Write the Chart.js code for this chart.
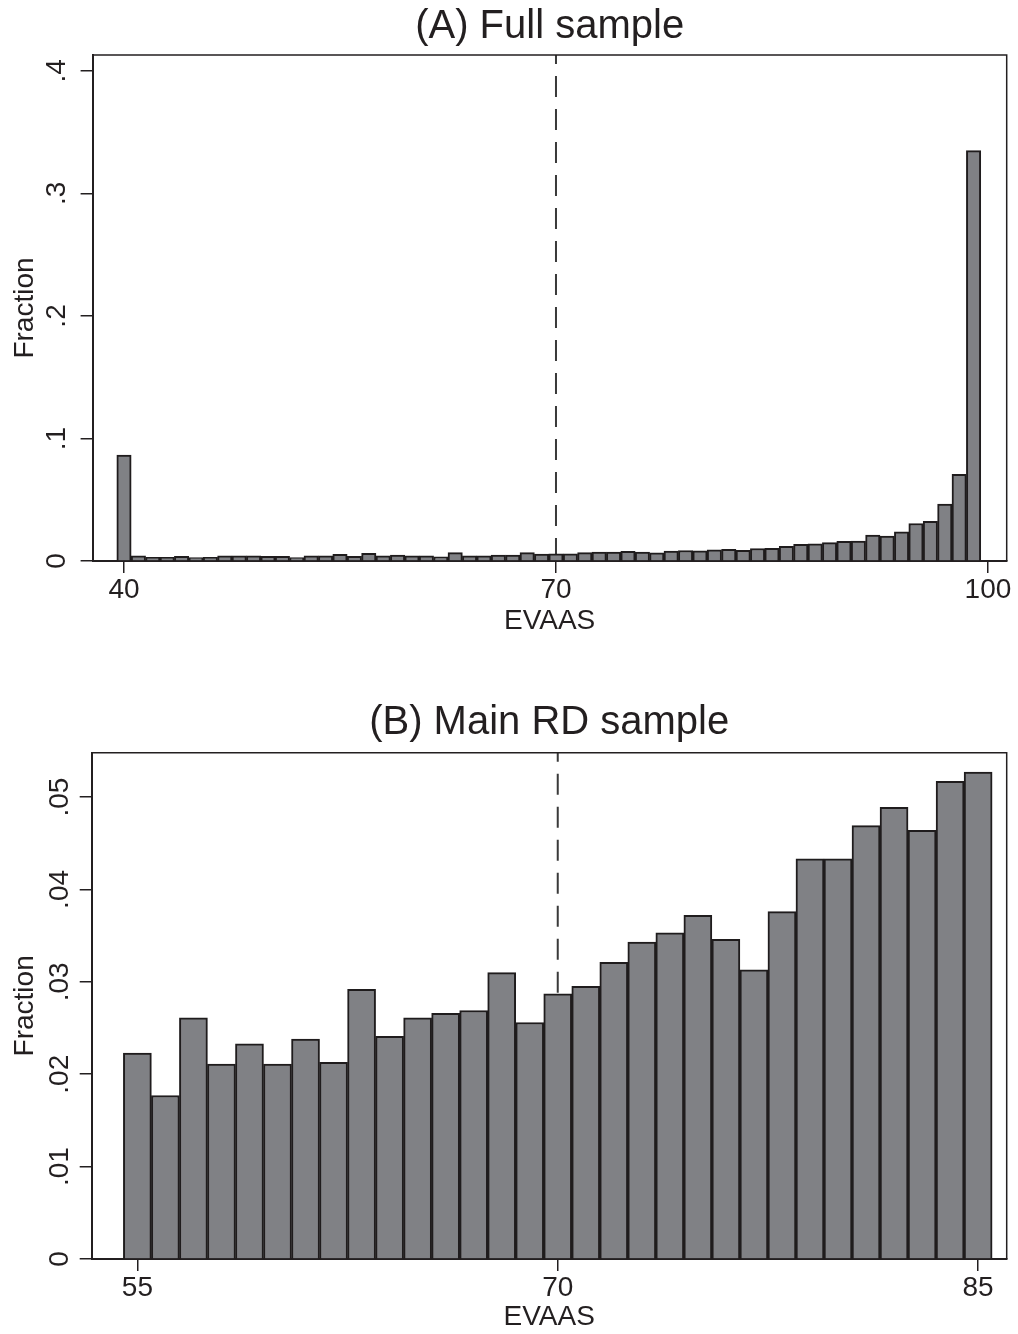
<!DOCTYPE html>
<html>
<head>
<meta charset="utf-8">
<script src="https://cdn.jsdelivr.net/npm/chart.js@4.4.1/dist/chart.umd.min.js"></script>
<style>
  html, body { margin: 0; padding: 0; background: #fff; }
  canvas { display: block; }
</style>
</head>
<body>
<canvas id="chartA" width="1018" height="667"></canvas>
<canvas id="chartB" width="1018" height="667"></canvas>
<script>
// Panel A: full sample, one bin per EVAAS point
const fullBins = [40, 41, 42, 43, 44, 45, 46, 47, 48, 49,
                  50, 51, 52, 53, 54, 55, 56, 57, 58, 59,
                  60, 61, 62, 63, 64, 65, 66, 67, 68, 69,
                  70, 71, 72, 73, 74, 75, 76, 77, 78, 79,
                  80, 81, 82, 83, 84, 85, 86, 87, 88, 89,
                  90, 91, 92, 93, 94, 95, 96, 97, 98, 99];
const fullFraction = [0.0865, 0.0043, 0.0030, 0.0030, 0.0038, 0.0028, 0.0030, 0.0043, 0.0043, 0.0043,
                      0.0038, 0.0038, 0.0028, 0.0043, 0.0043, 0.0054, 0.0038, 0.0062, 0.0043, 0.0048,
                      0.0043, 0.0043, 0.0035, 0.0068, 0.0043, 0.0043, 0.0048, 0.0048, 0.0068, 0.0057,
                      0.0058, 0.0058, 0.0068, 0.0072, 0.0072, 0.0078, 0.0073, 0.0066, 0.0080, 0.0086,
                      0.0084, 0.0092, 0.0096, 0.0088, 0.0102, 0.0103, 0.0119, 0.0137, 0.0140, 0.0150,
                      0.0160, 0.0163, 0.0212, 0.0204, 0.0239, 0.0306, 0.0323, 0.0465, 0.0707, 0.3350];
const fullXTicks = [40, 70, 100];
const fullYTicks = [0, 0.1, 0.2, 0.3, 0.4];
const fullYLabels = ['0', '.1', '.2', '.3', '.4'];

// Panel B: main RD sample
const rdBins = [55, 56, 57, 58, 59, 60, 61, 62, 63, 64,
                65, 66, 67, 68, 69, 70, 71, 72, 73, 74,
                75, 76, 77, 78, 79, 80, 81, 82, 83, 84, 85];
const rdFraction = [0.0223, 0.0177, 0.0261, 0.0211, 0.0233, 0.0211, 0.0238, 0.0213, 0.0292, 0.0241,
                    0.0261, 0.0266, 0.0269, 0.0310, 0.0256, 0.0287, 0.0295, 0.0321, 0.0343, 0.0353,
                    0.0372, 0.0346, 0.0313, 0.0376, 0.0433, 0.0433, 0.0469, 0.0489, 0.0464, 0.0517, 0.0527];
const rdXTicks = [55, 70, 85];
const rdYTicks = [0, 0.01, 0.02, 0.03, 0.04, 0.05];
const rdYLabels = ['0', '.01', '.02', '.03', '.04', '.05'];

const CUTOFF = 70;
const FONT = "'Liberation Sans', Arial, Helvetica, sans-serif";
const INK = '#231f20';
const BAR_FILL = '#808185';
const BAR_EDGE = '#1f1c1d';

// box around plot area + dashed cutoff line
const framePlugin = {
  id: 'frame',
  beforeDatasetsDraw(chart) {
    const { ctx, chartArea: a, scales: { x } } = chart;
    const px = x.getPixelForValue(CUTOFF);
    ctx.save();
    ctx.strokeStyle = '#3a3a3a';
    ctx.lineWidth = 2;
    ctx.setLineDash([21, 12]);
    ctx.lineDashOffset = 12;
    ctx.beginPath();
    ctx.moveTo(px, a.top);
    ctx.lineTo(px, a.bottom);
    ctx.stroke();
    ctx.restore();
  },
  afterDatasetsDraw(chart) {
    const { ctx, chartArea: a } = chart;
    ctx.save();
    ctx.strokeStyle = INK;
    ctx.lineWidth = 1.5;
    ctx.beginPath();
    ctx.moveTo(a.left, a.top);
    ctx.lineTo(a.right, a.top);
    ctx.lineTo(a.right, a.bottom);
    ctx.stroke();
    ctx.restore();
  }
};

function makePanel(id, p) {
  const font = { family: FONT, size: 28, weight: 'normal', lineHeight: 1.2 };
  return new Chart(document.getElementById(id), {
    type: 'bar',
    data: {
      datasets: [{
        data: p.bins.map((b, i) => ({ x: b, y: p.values[i] })),
        backgroundColor: BAR_FILL,
        borderColor: BAR_EDGE,
        borderWidth: 2,
        barPercentage: 1,
        categoryPercentage: 1,
        grouped: false
      }]
    },
    options: {
      responsive: false,
      animation: false,
      devicePixelRatio: 1,
      layout: { padding: { left: 0, right: 11.3, top: 0, bottom: 0 } },
      plugins: {
        legend: { display: false },
        tooltip: { enabled: false },
        title: {
          display: true,
          fullSize: false,
          text: p.title,
          color: INK,
          font: { family: FONT, size: 40, weight: 'normal', lineHeight: 1.2 },
          padding: { top: p.titleTop, bottom: p.titleBottom }
        }
      },
      scales: {
        x: {
          type: 'linear',
          min: p.xMin,
          max: p.xMax,
          offset: false,
          afterBuildTicks: s => { s.ticks = p.xTicks.map(v => ({ value: v })); },
          afterFit: s => { s.height = p.xHeight; },
          ticks: { color: INK, font, padding: 0, maxRotation: 0, autoSkip: false, callback: v => String(v) },
          grid: { offset: false, drawOnChartArea: false, tickLength: 12, color: INK, lineWidth: 1.5 },
          border: { color: INK, width: 2 },
          title: { display: true, text: 'EVAAS', color: INK, font, padding: { top: p.xTitlePad, bottom: p.xTitlePad } }
        },
        y: {
          min: 0,
          max: p.yMax,
          afterBuildTicks: s => { s.ticks = p.yTicks.map(v => ({ value: v })); },
          afterFit: s => { s.width = p.yWidth; },
          ticks: {
            color: INK, font, padding: p.yTickPad, minRotation: 90, maxRotation: 90, crossAlign: 'center',
            callback: (v, i) => p.yLabels[i]
          },
          grid: { offset: false, drawOnChartArea: false, tickLength: 12, color: INK, lineWidth: 1.5 },
          border: { color: INK, width: 2 },
          title: { display: true, text: 'Fraction', color: INK, font, padding: { top: 8, bottom: 8 } }
        }
      }
    },
    plugins: [framePlugin]
  });
}

makePanel('chartA', {
  title: '(A) Full sample',
  bins: fullBins, values: fullFraction,
  xTicks: fullXTicks, yTicks: fullYTicks, yLabels: fullYLabels,
  xMin: 37.82, xMax: 101.3, yMax: 0.413,
  titleTop: 3, titleBottom: 4,
  xHeight: 106, xTitlePad: 29, yWidth: 92.6, yTickPad: 12
});

makePanel('chartB', {
  title: '(B) Main RD sample',
  bins: rdBins, values: rdFraction,
  xTicks: rdXTicks, yTicks: rdYTicks, yLabels: rdYLabels,
  xMin: 53.37, xMax: 86.02, yMax: 0.0548,
  titleTop: 32, titleBottom: 5.7,
  xHeight: 75, xTitlePad: 0, yWidth: 91.7, yTickPad: 0
});
</script>
</body>
</html>
